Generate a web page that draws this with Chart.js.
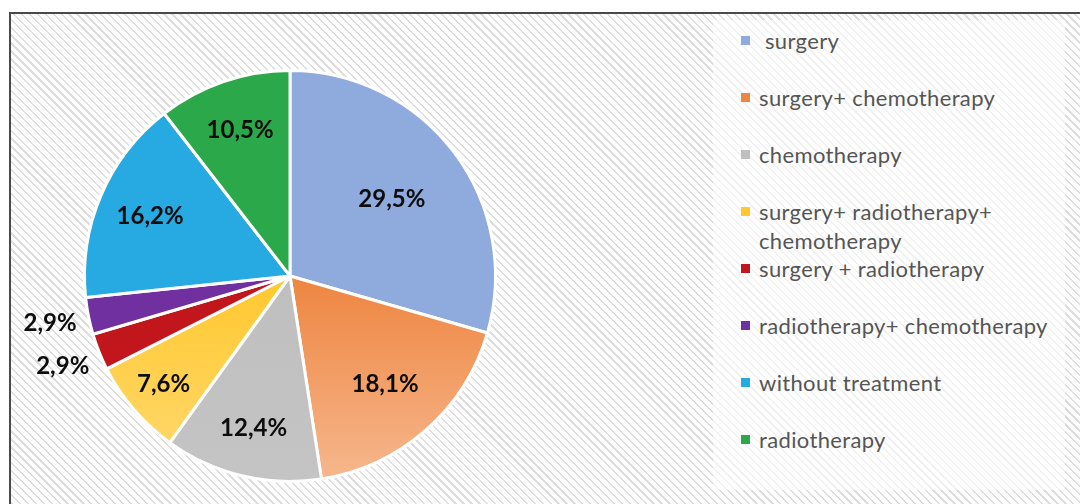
<!DOCTYPE html>
<html>
<head>
<meta charset="utf-8">
<script src="https://cdn.jsdelivr.net/npm/chart.js@4.4.1/dist/chart.umd.min.js"></script>
<style>
  html, body { margin: 0; padding: 0; background: #fff; }
  body { width: 1080px; height: 504px; position: relative; overflow: hidden; }
  #frame {
    position: absolute; left: 9px; top: 12px; width: 1080px; height: 600px;
    border: 2px solid #4a4a4a; box-sizing: border-box;
    background: repeating-linear-gradient(45deg, #ffffff 0px, #ffffff 2.5px, #dedede 2.5px, #dedede 4.1px, #ffffff 4.1px, #ffffff 5.6px);
  }
  #legendBox {
    position: absolute; left: 713px; top: 20px; width: 352px; height: 470px;
    background: rgba(255,255,255,0.6);
  }
  #legend { position: absolute; left: 741px; top: 26px; }
  .item { position: relative; height: 57px; }
  .mark { position: absolute; left: 0; top: 10px; width: 9px; height: 9px; }
  .txt {
    position: absolute; left: 18px; top: 0; width: 310px;
    font-family: Lato, "Open Sans", sans-serif; font-size: 22px; letter-spacing: 0.35px; line-height: 29px;
    color: #555555; white-space: pre-wrap;
  }
  #wrap { position: absolute; left: 0; top: 0; width: 580px; height: 504px; }
</style>
</head>
<body>
<div id="frame"></div>
<div id="legendBox"></div>
<div id="legend"></div>
<div id="wrap"><canvas id="pieChart"></canvas></div>
<script>
const categories = [' surgery', 'surgery+ chemotherapy', 'chemotherapy', 'surgery+ radiotherapy+ chemotherapy',
    'surgery + radiotherapy', 'radiotherapy+ chemotherapy', 'without treatment', 'radiotherapy']
const shares = [29.5, 18.1, 12.4, 7.6, 2.9, 2.9, 16.2, 10.5]
const colors = ['#8FAADC', '#EE8540', '#BFBFBF', '#FFC82E', '#C0161C', '#7030A0', '#27A9E1', '#2AA84A']

// lighter end of the gradient fill (null = flat colour)
const gradientEnds = [null, '#F6B88E', '#C4C4C4', '#FFDA73', null, null, null, null]
// where each percentage sits, as a fraction of the radius
const labelRadius = [0.62, 0.70, 0.76, 0.81, 1.19, 1.19, 0.74, 0.75]

// html legend
const legendEl = document.getElementById('legend')
categories.forEach((name, i) => {
    const item = document.createElement('div')
    item.className = 'item'
    item.innerHTML = '<div class="mark" style="background:' + colors[i] + '"></div><div class="txt"></div>'
    item.querySelector('.txt').textContent = name
    legendEl.appendChild(item)
})

const pctLabels = {
    id: 'pctLabels',
    afterDatasetsDraw(chart) {
        const ctx = chart.ctx
        const meta = chart.getDatasetMeta(0)
        ctx.save()
        ctx.font = 'bold 24px Lato, "Open Sans", sans-serif'
        ctx.fillStyle = '#0d0d0d'
        ctx.textAlign = 'center'
        ctx.textBaseline = 'middle'
        meta.data.forEach((arc, i) => {
            const p = arc.getProps(['x', 'y', 'startAngle', 'endAngle', 'outerRadius'], true)
            const mid = (p.startAngle + p.endAngle) / 2
            const r = p.outerRadius * labelRadius[i]
            const txt = shares[i].toFixed(1).replace('.', ',') + '%'
            ctx.fillText(txt, p.x + Math.cos(mid) * r, p.y + Math.sin(mid) * r)
        })
        ctx.restore()
    }
}

function sliceFill(context) {
    const i = context.dataIndex
    const chart = context.chart
    const area = chart.chartArea
    if (!area || !gradientEnds[i]) return colors[i]
    const cy = (area.top + area.bottom) / 2
    const g = chart.ctx.createLinearGradient(0, cy, 0, area.bottom)
    g.addColorStop(0, colors[i])
    g.addColorStop(1, gradientEnds[i])
    return g
}

const chart = new Chart(document.getElementById('pieChart'), {
    type: 'pie',
    data: {
        labels: categories,
        datasets: [{
            data: shares,
            backgroundColor: sliceFill,
            borderColor: '#ffffff',
            borderWidth: 3
        }]
    },
    options: {
        responsive: true,
        maintainAspectRatio: false,
        animation: false,
        layout: { padding: { top: 69, bottom: 21, left: 83, right: 83 } },
        plugins: {
            legend: { display: false },
            tooltip: { enabled: false }
        }
    },
    plugins: [pctLabels]
})
</script>
</body>
</html>
